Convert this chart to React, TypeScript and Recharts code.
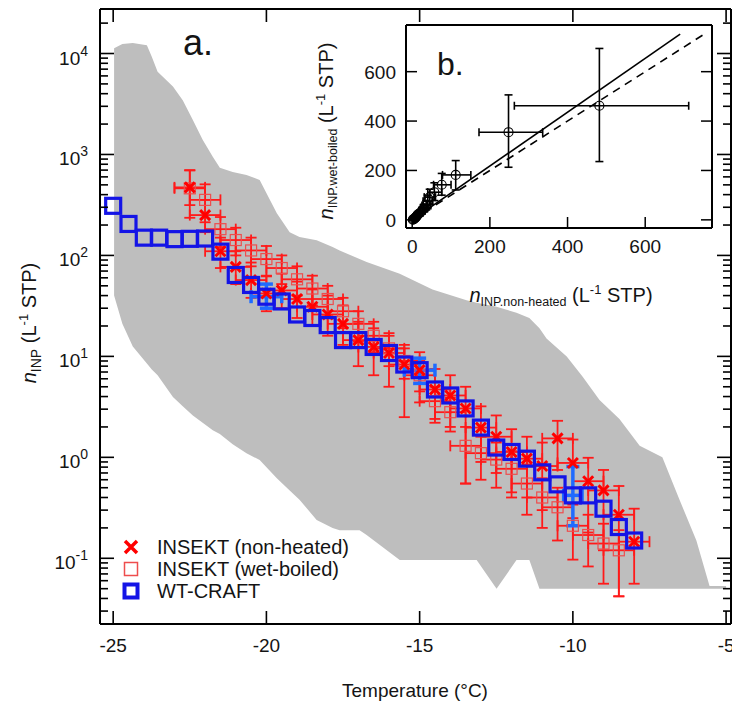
import React from "react";
import {
  ComposedChart,
  Area,
  Scatter,
  XAxis,
  YAxis,
  ErrorBar,
  Legend,
  ReferenceLine,
} from "recharts";

const FONT = "'Liberation Sans', Arial, Helvetica, sans-serif";

// grey band: spread of all measured spectra
const bandTemp = [
  -24.97, -24.7, -24.36, -23.9, -23.74, -23.55, -23.05, -22.73, -22.4, -22.08,
  -21.75, -21.52, -21.1, -20.65, -20.22, -19.66, -19.24, -18.92, -18.36, -17.84,
  -17.61, -16.96, -16.73, -15.65, -14.58, -13.47, -13.14, -12.49, -11.84, -11.42,
  -11.09, -10.86, -10.2, -9.68, -9.13, -8.48, -7.82, -7.08, -6.52, -5.97, -5.54, -5.0,
];
const bandLow = [
  40, 21, 12.5, 8.5, 7.4, 6.5, 3.95, 3.2, 2.6, 2.2,
  1.85, 1.7, 1.35, 1.1, 0.94, 0.62, 0.47, 0.38, 0.24, 0.2,
  0.19, 0.19, 0.17, 0.096, 0.096, 0.096, 0.096, 0.05, 0.096, 0.096,
  0.05, 0.05, 0.05, 0.05, 0.05, 0.05, 0.05, 0.05, 0.05, 0.05, 0.05, 0.05,
];
const bandHigh = [
  11300, 12400, 12700, 12100, 9300, 6600, 4700, 3450, 2200, 1400,
  950, 740, 670, 625, 560, 262, 170, 152, 141, 121,
  112, 92, 86, 66, 46, 36, 34, 31, 27, 24,
  19, 15, 10, 6.3, 3.7, 2.4, 1.3, 1.0, 0.38, 0.15, 0.053, 0.053,
];

// [temperature, nINP, lower, upper]
const nonHeated = [
  [-22.5, 472, 315, 700],
  [-22.0, 251, 170, 355],
  [-21.5, 110, 75, 150],
  [-21.0, 77, 52, 110],
  [-20.5, 57, 38, 85],
  [-20.0, 42, 28, 62],
  [-19.5, 45, 30, 66],
  [-19.0, 37, 24, 55],
  [-18.5, 31, 20, 46],
  [-18.0, 26, 16, 40],
  [-17.5, 21, 13, 32],
  [-17.0, 14.5, 8, 22],
  [-16.5, 12.4, 6.5, 19],
  [-16.0, 10.8, 5, 17],
  [-15.5, 8.3, 2.5, 13],
  [-15.0, 7.3, 3.5, 11],
  [-14.5, 4.7, 2.2, 7.5],
  [-14.0, 4.1, 2, 6.5],
  [-13.5, 3.05, 0.55, 5],
  [-13.0, 1.97, 0.9, 3.2],
  [-12.5, 1.6, 0.7, 2.6],
  [-12.0, 1.13, 0.45, 1.9],
  [-11.5, 0.97, 0.4, 1.6],
  [-11.0, 0.82, 0.3, 1.4],
  [-10.5, 1.54, 0.75, 2.3],
  [-10.0, 0.88, 0.25, 1.5],
  [-9.5, 0.58, 0.18, 0.99],
  [-9.0, 0.47, 0.12, 0.75],
  [-8.5, 0.27, 0.042, 0.52],
  [-8.0, 0.146, 0.056, 0.31],
];

const wetBoiled = [
  [-22.5, 462, 236, 694],
  [-22.0, 355, 213, 506],
  [-21.5, 182, 121, 240],
  [-21.0, 142, 100, 188],
  [-20.5, 112, 78, 150],
  [-20.0, 92, 63, 124],
  [-19.5, 75, 52, 100],
  [-19.0, 58, 40, 78],
  [-18.5, 47, 32, 63],
  [-18.0, 37, 25, 50],
  [-17.5, 28, 19, 38],
  [-17.0, 21, 14, 28],
  [-16.5, 16, 11, 22],
  [-16.0, 12, 8, 16],
  [-15.5, 9, 6, 12],
  [-15.0, 6.5, 4.5, 9],
  [-14.5, 3.6, 2.4, 5],
  [-14.0, 2.8, 1.8, 3.9],
  [-13.5, 1.3, 0.55, 2.0],
  [-13.0, 1.1, 0.6, 1.6],
  [-12.5, 0.95, 0.5, 1.4],
  [-12.0, 0.77, 0.4, 1.15],
  [-11.5, 0.55, 0.27, 0.85],
  [-11.0, 0.4, 0.2, 0.62],
  [-10.5, 0.32, 0.15, 0.5],
  [-10.0, 0.21, 0.097, 0.34],
  [-9.5, 0.17, 0.083, 0.27],
  [-9.0, 0.14, 0.056, 0.22],
  [-8.5, 0.12, 0.042, 0.19],
];
const tempErr = 0.5;

// [temperature, nINP]
const wtCraft = [
  [-25.0, 310], [-24.5, 205], [-24.0, 150], [-23.5, 150], [-23.0, 145],
  [-22.5, 146], [-22.0, 147], [-21.5, 109], [-21.0, 64], [-20.5, 51],
  [-20.0, 39], [-19.5, 35], [-19.0, 26], [-18.5, 24], [-18.0, 20.4],
  [-17.5, 14.5], [-17.0, 14.5], [-16.5, 12.4], [-16.0, 10.8], [-15.5, 8.3],
  [-15.0, 7.3], [-14.5, 4.7], [-14.0, 4.1], [-13.5, 3.05], [-13.0, 1.97],
  [-12.5, 1.25], [-12.0, 1.13], [-11.5, 0.97], [-11.0, 0.71], [-10.5, 0.54],
  [-10.0, 0.42], [-9.5, 0.42], [-9.0, 0.31], [-8.5, 0.204], [-8.0, 0.15],
];
// [temperature, nINP, lower, upper, temperature error]
const wtCraftErr = [
  [-20.0, 39, 30, 52, 0.5],
  [-15.0, 7.3, 5.4, 9.6, 0.5],
  [-10.0, 0.42, 0.21, 0.81, 0.3],
];

const tempTicks = [-25, -20, -15, -10, -5];
const decadeTicks = [0.1, 1, 10, 100, 1000, 10000];
const decadeLabels = ["-1", "0", "1", "2", "3", "4"];
const minorMults = [2, 3, 4, 5, 6, 7, 8, 9];

// inset b: [non-heated, wet-boiled, xLow, xHigh, yLow, yHigh]
const insetPoints = [
  [482, 462, 263, 712, 236, 694],
  [248, 355, 172, 336, 213, 506],
  [112, 182, 78, 151, 121, 240],
  [76, 142, 55, 100, 100, 188],
  [57, 112, 40, 76, 78, 150],
  [45, 92, 31, 60, 63, 124],
  [40, 75, 28, 53, 52, 100],
  [36, 58, 25, 48, 40, 78],
  [30, 47, 21, 40, 32, 63],
  [25, 37, 17, 33, 25, 50],
  [20, 28, 14, 27, 19, 38],
  [14, 21, 10, 19, 14, 28],
  [12, 16, 8, 16, 11, 22],
  [10, 12, 7, 13, 8, 16],
  [8, 9, 5.5, 11, 6, 12],
  [7, 6.5, 5, 9, 4.5, 9],
  [4.5, 3.6, 3, 6, 2.4, 5],
  [3, 1.3, 2, 4, 0.9, 1.8],
  [1.5, 0.9, 1, 2, 0.6, 1.2],
];
const insetTicks = [0, 200, 400, 600];
const fitLine = [{ x: 0, y: 0 }, { x: 690, y: 752 }];
const oneToOne = [{ x: 0, y: 0 }, { x: 760, y: 760 }];

const legendItems = [
  { label: "INSEKT (non-heated)", kind: "cross" },
  { label: "INSEKT (wet-boiled)", kind: "open" },
  { label: "WT-CRAFT", kind: "blue" },
];

const RED = "#ff0000";
const RED_BAR = "#ff1a1a";
const PINK = "#ee4d4d";
const BLUE = "#1414e6";
const LIGHT_BLUE = "#1f6bff";
const GREY = "#bebebe";
const INK = "#141414";

const bandRows = bandTemp.map((T, i) => ({ T, range: [bandLow[i], bandHigh[i]] }));
const nhRows = nonHeated.map(([T, n, lo, hi]) => ({ T, n, yErr: [n - lo, hi - n], xErr: tempErr }));
const wbRows = wetBoiled.map(([T, n, lo, hi]) => ({ T, n, yErr: [n - lo, hi - n], xErr: tempErr }));
const craftRows = wtCraft.map(([T, n]) => ({ T, n }));
const craftErrRows = wtCraftErr.map(([T, n, lo, hi, dt]) => ({ T, n, yErr: [n - lo, hi - n], xErr: dt }));
const insetRows = insetPoints.map(([x, y, xl, xh, yl, yh]) => ({
  x,
  y,
  xErr: [x - xl, xh - x],
  yErr: [y - yl, yh - y],
}));

const yMin = 0.02234;
const yMax = 27600;
const logTicks = [
  ...decadeTicks,
  ...[0.01, 0.1, 1, 10, 100, 1000, 10000].flatMap((d) => minorMults.map((m) => +(d * m).toPrecision(2))),
]
  .filter((v) => v > yMin && v < yMax)
  .sort((a, b) => a - b);

const majorIndex = (v: number) => decadeTicks.findIndex((d) => Math.abs(d - v) / d < 1e-6);

function LeftLogTick({ x, y, payload }: any) {
  const i = majorIndex(payload.value);
  return (
    <g>
      <line x1={x} x2={x + (i >= 0 ? 14 : 8)} y1={y} y2={y} stroke="#000" strokeWidth={1.6} />
      {i >= 0 && (
        <text x={x - 12} y={y + 11} textAnchor="end" fontSize={19} fontFamily={FONT} fill={INK}>
          10
          <tspan dy={-9} fontSize={14}>
            {decadeLabels[i]}
          </tspan>
        </text>
      )}
    </g>
  );
}

function RightLogTick({ x, y, payload }: any) {
  const len = majorIndex(payload.value) >= 0 ? 14 : 8;
  return <line x1={x} x2={x - len} y1={y} y2={y} stroke="#000" strokeWidth={1.6} />;
}

function BottomTick({ x, y, payload }: any) {
  return (
    <g>
      <line x1={x} x2={x} y1={y} y2={y - 13} stroke="#000" strokeWidth={1.6} />
      <text x={x} y={y + 28} textAnchor="middle" fontSize={19} fontFamily={FONT} fill={INK}>
        {payload.value}
      </text>
    </g>
  );
}

function TopTick({ x, y }: any) {
  return <line x1={x} x2={x} y1={y} y2={y + 13} stroke="#000" strokeWidth={1.6} />;
}

function InsetBottomTick({ x, y, payload }: any) {
  return (
    <g>
      <line x1={x} x2={x} y1={y} y2={y - 11} stroke="#000" strokeWidth={1.5} />
      <text x={x} y={y + 25} textAnchor="middle" fontSize={19} fontFamily={FONT} fill={INK}>
        {payload.value}
      </text>
    </g>
  );
}

function InsetLeftTick({ x, y, payload }: any) {
  return (
    <g>
      <line x1={x} x2={x + 11} y1={y} y2={y} stroke="#000" strokeWidth={1.5} />
      <text x={x - 10} y={y + 7} textAnchor="end" fontSize={19} fontFamily={FONT} fill={INK}>
        {payload.value}
      </text>
    </g>
  );
}

function InsetTopTick({ x, y }: any) {
  return <line x1={x} x2={x} y1={y} y2={y + 11} stroke="#000" strokeWidth={1.5} />;
}

function InsetRightTick({ x, y }: any) {
  return <line x1={x} x2={x - 11} y1={y} y2={y} stroke="#000" strokeWidth={1.5} />;
}

const Cross = ({ cx, cy }: any) => (
  <path
    d={`M${cx - 5},${cy - 5}L${cx + 5},${cy + 5}M${cx + 5},${cy - 5}L${cx - 5},${cy + 5}`}
    stroke={RED}
    strokeWidth={3}
  />
);
const OpenSquare = ({ cx, cy }: any) => (
  <rect x={cx - 5.5} y={cy - 5.5} width={11} height={11} fill="none" stroke={PINK} strokeWidth={1.2} />
);
const BlueSquare = ({ cx, cy }: any) => (
  <rect x={cx - 7.5} y={cy - 7.5} width={15} height={15} fill="none" stroke={BLUE} strokeWidth={3.2} />
);
const Nothing = () => <g />;
const OpenCircle = ({ cx, cy }: any) => (
  <circle cx={cx} cy={cy} r={4.5} fill="none" stroke="#000" strokeWidth={1.1} />
);

function LegendIcon({ kind }: { kind: string }) {
  if (kind === "cross")
    return <path d="M7,5L19,17M19,5L7,17" stroke={RED} strokeWidth={3.5} />;
  if (kind === "open")
    return <rect x={6.5} y={4.5} width={13} height={13} fill="none" stroke={PINK} strokeWidth={1.5} />;
  return <rect x={6.5} y={4.5} width={13} height={13} fill="none" stroke={BLUE} strokeWidth={4} />;
}

function LegendBox() {
  return (
    <div style={{ fontFamily: FONT, fontSize: 20, color: INK }}>
      {legendItems.map((it) => (
        <div key={it.label} style={{ display: "flex", alignItems: "center", height: 22 }}>
          <svg width={26} height={22}>
            <LegendIcon kind={it.kind} />
          </svg>
          <span style={{ marginLeft: 13, lineHeight: "22px" }}>{it.label}</span>
        </div>
      ))}
    </div>
  );
}

const axisLine = { stroke: "#000", strokeWidth: 2 };

function MainChart() {
  return (
    <ComposedChart width={732} height={706} data={bandRows} margin={{ top: 9, right: 1, bottom: 82, left: 100 }}>
      <XAxis
        type="number"
        dataKey="T"
        domain={[-25.43, -4.84]}
        allowDataOverflow
        ticks={tempTicks}
        interval={0}
        mirror
        tickSize={0}
        tickMargin={0}
        tickLine={false}
        axisLine={axisLine}
        tick={<BottomTick />}
      />
      <XAxis
        xAxisId="top"
        orientation="top"
        type="number"
        dataKey="T"
        domain={[-25.43, -4.84]}
        allowDataOverflow
        ticks={tempTicks}
        interval={0}
        mirror
        tickSize={0}
        tickMargin={0}
        tickLine={false}
        axisLine={axisLine}
        tick={<TopTick />}
      />
      <YAxis
        scale="log"
        dataKey="n"
        domain={[yMin, yMax]}
        allowDataOverflow
        ticks={logTicks}
        interval={0}
        mirror
        tickSize={0}
        tickMargin={0}
        tickLine={false}
        axisLine={axisLine}
        tick={<LeftLogTick />}
      />
      <YAxis
        yAxisId="right"
        orientation="right"
        scale="log"
        domain={[yMin, yMax]}
        allowDataOverflow
        ticks={logTicks}
        interval={0}
        mirror
        tickSize={0}
        tickMargin={0}
        tickLine={false}
        axisLine={axisLine}
        tick={<RightLogTick />}
      />
      <Area
        type="linear"
        dataKey="range"
        stroke="none"
        fill={GREY}
        fillOpacity={1}
        dot={false}
        activeDot={false}
        isAnimationActive={false}
      />
      <Scatter data={wbRows} shape={OpenSquare} isAnimationActive={false}>
        <ErrorBar dataKey="yErr" direction="y" width={5.5} stroke={RED_BAR} strokeWidth={1.8} isAnimationActive={false} />
        <ErrorBar dataKey="xErr" direction="x" width={5.5} stroke={RED_BAR} strokeWidth={1.8} isAnimationActive={false} />
      </Scatter>
      <Scatter data={nhRows} shape={Cross} isAnimationActive={false}>
        <ErrorBar dataKey="yErr" direction="y" width={5.5} stroke={RED_BAR} strokeWidth={1.8} isAnimationActive={false} />
        <ErrorBar dataKey="xErr" direction="x" width={5.5} stroke={RED_BAR} strokeWidth={1.8} isAnimationActive={false} />
      </Scatter>
      <Scatter data={craftRows} shape={BlueSquare} isAnimationActive={false} />
      <Scatter data={craftErrRows} shape={Nothing} isAnimationActive={false}>
        <ErrorBar dataKey="yErr" direction="y" width={6.5} stroke={LIGHT_BLUE} strokeWidth={3.5} isAnimationActive={false} />
        <ErrorBar dataKey="xErr" direction="x" width={6.5} stroke={LIGHT_BLUE} strokeWidth={3.5} isAnimationActive={false} />
      </Scatter>
      <Legend
        layout="vertical"
        align="center"
        verticalAlign="middle"
        content={() => <LegendBox />}
        wrapperStyle={{ left: 118, top: 536, width: 280, height: 66 }}
      />
      <text x={183} y={55} fontSize={36} fontFamily={FONT} fill={INK}>
        a.
      </text>
      <text x={415} y={697} textAnchor="middle" fontSize={19} fontFamily={FONT} fill={INK}>
        Temperature (°C)
      </text>
      <text transform="rotate(-90)" x={-323} y={36} textAnchor="middle" fontSize={20} fontFamily={FONT} fill={INK}>
        <tspan fontStyle="italic">n</tspan>
        <tspan fontSize={14} dy={5}>
          INP
        </tspan>
        <tspan dy={-5}> (L</tspan>
        <tspan fontSize={13} dy={-8}>
          -1
        </tspan>
        <tspan dy={8}> STP)</tspan>
      </text>
    </ComposedChart>
  );
}

function InsetChart() {
  return (
    <ComposedChart width={732} height={706} margin={{ top: 25, right: 20, bottom: 478, left: 406 }}>
      <XAxis
        type="number"
        dataKey="x"
        domain={[-16, 772]}
        allowDataOverflow
        ticks={insetTicks}
        interval={0}
        mirror
        tickSize={0}
        tickMargin={0}
        tickLine={false}
        axisLine={axisLine}
        tick={<InsetBottomTick />}
      />
      <XAxis
        xAxisId="top"
        orientation="top"
        type="number"
        domain={[-16, 772]}
        allowDataOverflow
        ticks={insetTicks}
        interval={0}
        mirror
        tickSize={0}
        tickMargin={0}
        tickLine={false}
        axisLine={axisLine}
        tick={<InsetTopTick />}
      />
      <YAxis
        type="number"
        dataKey="y"
        domain={[-33, 789]}
        allowDataOverflow
        ticks={insetTicks}
        interval={0}
        mirror
        tickSize={0}
        tickMargin={0}
        tickLine={false}
        axisLine={axisLine}
        tick={<InsetLeftTick />}
      />
      <YAxis
        yAxisId="right"
        orientation="right"
        type="number"
        domain={[-33, 789]}
        allowDataOverflow
        ticks={insetTicks}
        interval={0}
        mirror
        tickSize={0}
        tickMargin={0}
        tickLine={false}
        axisLine={axisLine}
        tick={<InsetRightTick />}
      />
      <ReferenceLine segment={oneToOne} stroke="#000" strokeWidth={1.6} strokeDasharray="8 6" />
      <ReferenceLine segment={fitLine} stroke="#000" strokeWidth={1.6} />
      <Scatter data={insetRows} shape={OpenCircle} isAnimationActive={false}>
        <ErrorBar dataKey="yErr" direction="y" width={4} stroke="#000" strokeWidth={1.6} isAnimationActive={false} />
        <ErrorBar dataKey="xErr" direction="x" width={4} stroke="#000" strokeWidth={1.6} isAnimationActive={false} />
      </Scatter>
      <text x={437} y={75} fontSize={32} fontFamily={FONT} fill={INK}>
        b.
      </text>
      <text x={561} y={302} textAnchor="middle" fontSize={20} fontFamily={FONT} fill={INK}>
        <tspan fontStyle="italic">n</tspan>
        <tspan fontSize={12.5} dy={4}>
          INP.non-heated
        </tspan>
        <tspan dy={-4}> (L</tspan>
        <tspan fontSize={13} dy={-8}>
          -1
        </tspan>
        <tspan dy={8}> STP)</tspan>
      </text>
      <text transform="rotate(-90)" x={-131} y={333} textAnchor="middle" fontSize={20} fontFamily={FONT} fill={INK}>
        <tspan fontStyle="italic">n</tspan>
        <tspan fontSize={12.5} dy={4}>
          INP.wet-boiled
        </tspan>
        <tspan dy={-4}> (L</tspan>
        <tspan fontSize={13} dy={-8}>
          -1
        </tspan>
        <tspan dy={8}> STP)</tspan>
      </text>
    </ComposedChart>
  );
}

export default function App() {
  return (
    <div style={{ position: "absolute", left: 0, top: 0, width: 732, height: 706, background: "#fff" }}>
      <div style={{ position: "absolute", left: 0, top: 0 }}>
        <MainChart />
      </div>
      <div style={{ position: "absolute", left: 0, top: 0 }}>
        <InsetChart />
      </div>
    </div>
  );
}
